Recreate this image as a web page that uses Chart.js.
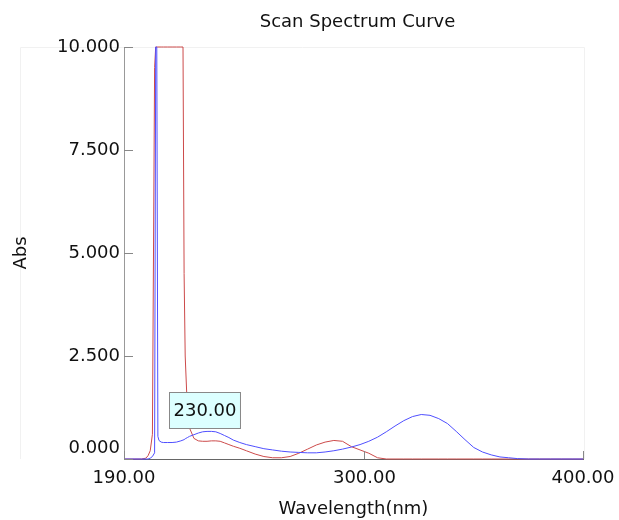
<!DOCTYPE html>
<html>
<head>
<meta charset="utf-8">
<script src="https://cdn.jsdelivr.net/npm/chart.js@4"></script>
<style>
html,body{margin:0;padding:0;background:#fff;}
#wrap{width:619px;height:520px;}
</style>
</head>
<body>
<div id="wrap"><canvas id="c" width="619" height="520"></canvas></div>
<script>
const chartTitle = 'Scan Spectrum Curve';
const xTitle = 'Wavelength(nm)';
const yTitle = 'Abs';
const xTicks = [190, 300, 400];
const yTicks = [0, 2.5, 5, 7.5, 10];
const peakLabelAt = 230;

const wavelengths = [190,195,198,200,201,202,203,204,204.5,205,205.5,206,207,208,210,212,214,216,217,217.5,218,219,220,222,224,226,228,230,232,234,236,238,240,243,246,250,254,258,262,266,270,274,278,282,286,290,294,298,302,306,310,314,318,322,326,330,334,338,342,346,350,354,358,362,366,370,375,380,385,390,395,400];

const blueAbs = [0,0,0,0,0,0.02,0.06,0.15,10,10,0.55,0.45,0.41,0.40,0.40,0.40,0.41,0.44,0.46,0.47,0.49,0.52,0.55,0.59,0.63,0.66,0.67,0.67,0.66,0.62,0.57,0.52,0.46,0.40,0.35,0.30,0.25,0.22,0.19,0.17,0.16,0.15,0.15,0.17,0.20,0.24,0.29,0.35,0.43,0.53,0.66,0.80,0.93,1.03,1.08,1.06,0.98,0.86,0.67,0.47,0.28,0.17,0.10,0.05,0.03,0.01,0,0,0,0,0,0];

const redAbs = [0,0,0,0.02,0.08,0.2,0.6,9.5,10,10,10,10,10,10,10,10,10,10,10,4.5,2.5,1.2,0.75,0.5,0.44,0.43,0.43,0.44,0.44,0.43,0.39,0.35,0.31,0.26,0.20,0.12,0.06,0.03,0.03,0.06,0.14,0.24,0.34,0.41,0.45,0.43,0.30,0.22,0.14,0.03,0,0,0,0,0,0,0,0,0,0,0,0,0,0,0,0,0,0,0,0,0,0];

const FONT = '"DejaVu Sans", Verdana, sans-serif';

const decor = {
  id: 'decor',
  beforeDraw(chart) {
    const {ctx, chartArea: a} = chart;
    ctx.save();
    ctx.strokeStyle = '#f1f1f1';
    ctx.lineWidth = 1;
    ctx.beginPath();
    ctx.moveTo(20.5, a.bottom);
    ctx.lineTo(20.5, a.top + 0.5);
    ctx.lineTo(a.right + 1.5, a.top + 0.5);
    ctx.lineTo(a.right + 1.5, a.bottom);
    ctx.stroke();
    ctx.restore();
  },
  afterDraw(chart) {
    const {ctx, chartArea: a, scales: {x, y}} = chart;
    ctx.save();
    ctx.fillStyle = '#111';
    ctx.font = '18px ' + FONT;
    ctx.textAlign = 'center';
    ctx.textBaseline = 'middle';
    ctx.fillText(chartTitle, (a.left + a.right) / 2 + 4, 22);
    ctx.strokeStyle = '#888';
    ctx.lineWidth = 1;
    ctx.beginPath();
    yTicks.forEach(v => {
      const py = Math.round(y.getPixelForValue(v)) + 0.5;
      ctx.moveTo(a.left, py);
      ctx.lineTo(a.left + 9, py);
    });
    xTicks.forEach(v => {
      const px = Math.round(x.getPixelForValue(v)) + 0.5;
      ctx.moveTo(px, a.bottom);
      ctx.lineTo(px, a.bottom - 8);
    });
    ctx.stroke();
    ctx.restore();
  },
  afterDatasetsDraw(chart) {
    const {ctx, scales: {x, y}} = chart;
    const i = wavelengths.indexOf(peakLabelAt);
    const px = x.getPixelForValue(peakLabelAt);
    const py = y.getPixelForValue(blueAbs[i]);
    const text = peakLabelAt.toFixed(2);
    ctx.save();
    ctx.font = '18px ' + FONT;
    const w = ctx.measureText(text).width + 8;
    const h = 36;
    const bx = Math.round(px - 42) + 0.5;
    const by = Math.round(py - 39) + 0.5;
    ctx.fillStyle = '#dcffff';
    ctx.fillRect(bx, by, w, h);
    ctx.strokeStyle = '#888';
    ctx.lineWidth = 1;
    ctx.strokeRect(bx, by, w, h);
    ctx.fillStyle = '#111';
    ctx.textAlign = 'center';
    ctx.textBaseline = 'middle';
    ctx.fillText(text, bx + w / 2, by + h / 2 + 1);
    ctx.restore();
  }
};

new Chart(document.getElementById('c'), {
  type: 'line',
  data: {
    labels: wavelengths,
    datasets: [
      { label: 'Blue', data: wavelengths.map((w, i) => ({x: w, y: blueAbs[i]})), borderColor: '#4f4fff', borderWidth: 1, pointRadius: 0, tension: 0, fill: false, clip: 3 },
      { label: 'Red', data: wavelengths.map((w, i) => ({x: w, y: redAbs[i]})), borderColor: '#cc4a4a', borderWidth: 1, pointRadius: 0, tension: 0, fill: false, clip: 3 }
    ]
  },
  options: {
    responsive: false,
    animation: false,
    layout: { padding: { top: 47, right: 36, left: 0, bottom: 0 } },
    plugins: { legend: { display: false }, tooltip: { enabled: false }, title: { display: false } },
    scales: {
      x: {
        type: 'linear', min: 190, max: 400,
        afterBuildTicks: s => { s.ticks = xTicks.map(v => ({value: v})); },
        afterFit: s => { s.height = 61; s.paddingRight = 0; s.paddingLeft = 0; },
        grid: { drawOnChartArea: false, drawTicks: false },
        border: { display: true, color: '#666', width: 1 },
        ticks: { padding: 9, color: '#111', font: { family: FONT, size: 18 }, maxRotation: 0, autoSkip: false, callback: v => Number(v).toFixed(2) },
        title: { display: true, text: xTitle, color: '#111', font: { family: FONT, size: 18 }, padding: { top: 0, bottom: 0 } }
      },
      y: {
        type: 'linear', min: 0, max: 10,
        afterBuildTicks: s => { s.ticks = yTicks.map(v => ({value: v})); },
        afterFit: s => { s.width = 124; s.paddingTop = 0; s.paddingBottom = 0; },
        grid: { drawOnChartArea: false, drawTicks: false },
        border: { display: true, color: '#999', width: 1 },
        ticks: { padding: 4, color: '#111', font: { family: FONT, size: 18 }, autoSkip: false,
          callback: v => v === 0 ? [Number(v).toFixed(3), ''] : Number(v).toFixed(3) },
        title: { display: true, text: yTitle, color: '#111', font: { family: FONT, size: 18 }, padding: { top: 11, bottom: 0 } }
      }
    }
  },
  plugins: [decor]
});
</script>
</body>
</html>
